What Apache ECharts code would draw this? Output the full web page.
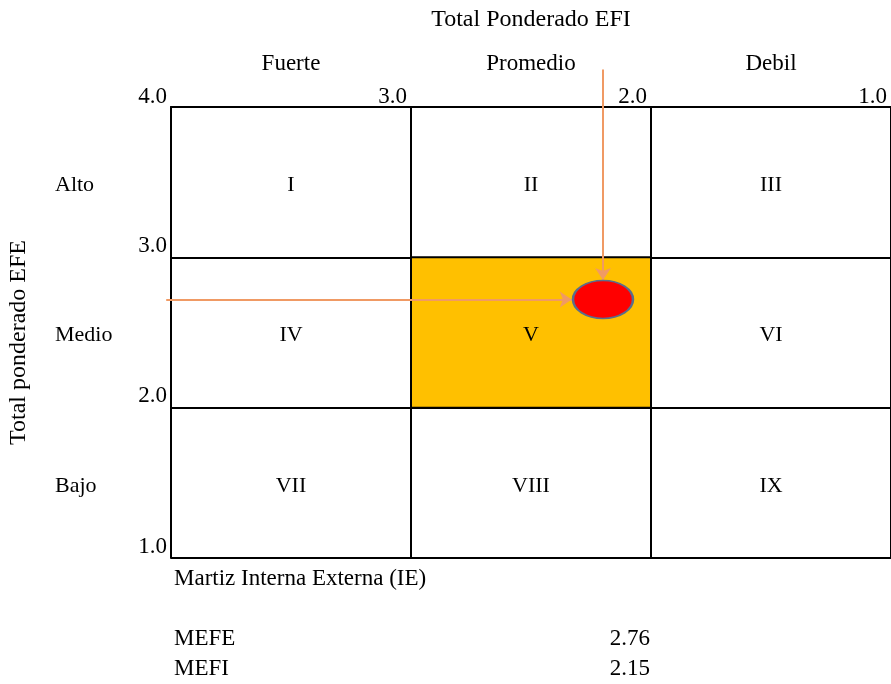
<!DOCTYPE html>
<html>
<head>
<meta charset="utf-8">
<script src="https://cdn.jsdelivr.net/npm/echarts@6/dist/echarts.min.js"></script>
<style>
html,body{margin:0;padding:0;background:#fff;}
#chart{width:891px;height:684px;}
</style>
</head>
<body>
<div id="chart"></div>
<script>
// ---- data ----
const axisMin = 1, axisMax = 4;
const xTitle = 'Total Ponderado EFI';
const yTitle = 'Total ponderado EFE';
const colHeaders = ['Fuerte', 'Promedio', 'Debil'];
const colCenters = [3.5, 2.5, 1.5];
const rowHeaders = ['Alto', 'Medio', 'Bajo'];
const rowCenters = [3.5, 2.5, 1.5];
const cellLabels = ['I', 'II', 'III', 'IV', 'V', 'VI', 'VII', 'VIII', 'IX'];
const cellEFI = [3.5, 2.5, 1.5, 3.5, 2.5, 1.5, 3.5, 2.5, 1.5];
const cellEFE = [3.5, 3.5, 3.5, 2.5, 2.5, 2.5, 1.5, 1.5, 1.5];
const highlightEFI = [3, 2];
const highlightEFE = [3, 2];
const pointEFI = [2.2];
const pointEFE = [2.72];
const arrowV = [[2.2, 4.25], [2.2, 2.85]];
const arrowH = [[4.02, 2.72], [2.33, 2.72]];
const footerTitle = 'Martiz Interna Externa (IE)';
const summaryNames = ['MEFE', 'MEFI'];
const summaryValues = ['2.76', '2.15'];

const FONT = '"Liberation Serif", "Times New Roman", serif';
const chart = echarts.init(document.getElementById('chart'));

const option = {
  animation: false,
  backgroundColor: '#fff',
  grid: { left: 171, top: 107, width: 721, height: 451, show: false },
  xAxis: {
    type: 'value', min: axisMin, max: axisMax, interval: 1, inverse: true, position: 'top',
    axisLine: { show: true, lineStyle: { color: '#000', width: 2 } },
    axisTick: { show: false },
    splitLine: { show: true, lineStyle: { color: '#000', width: 2 } },
    axisLabel: {
      formatter: v => v.toFixed(1), align: 'right', margin: -1, padding: [0, 4, 0, 0],
      fontSize: 23, fontFamily: FONT, color: '#000', showMinLabel: true, showMaxLabel: true
    }
  },
  yAxis: {
    type: 'value', min: axisMin, max: axisMax, interval: 1,
    axisLine: { show: true, lineStyle: { color: '#000', width: 2 } },
    axisTick: { show: false },
    splitLine: { show: true, lineStyle: { color: '#000', width: 2 } },
    axisLabel: {
      formatter: v => (v === axisMax ? '' : v.toFixed(1)), verticalAlign: 'bottom', margin: 4,
      fontSize: 23, fontFamily: FONT, color: '#000'
    }
  },
  series: [
    {
      type: 'scatter', name: 'cells', z: 3,
      symbolSize: 0, itemStyle: { color: '#000', opacity: 1 },
      data: cellLabels.map((n, i) => ({ name: n, value: [cellEFI[i], cellEFE[i]] })),
      label: { show: true, position: 'inside', offset: [0, 3], formatter: p => p.name, fontSize: 22, fontFamily: FONT, color: '#000', opacity: 1 },
      emphasis: { disabled: true },
      markArea: {
        silent: true,
        itemStyle: { color: '#FFC000', borderColor: '#000', borderWidth: 2, opacity: 1 },
        data: [[{ xAxis: highlightEFI[0], yAxis: highlightEFE[0] }, { xAxis: highlightEFI[1], yAxis: highlightEFE[1] }]]
      }
    },
    {
      type: 'lines', coordinateSystem: 'cartesian2d', clip: false, z: 4,
      symbol: ['none', 'arrow'], symbolSize: 12,
      lineStyle: { color: '#F09A64', width: 2, opacity: 1 },
      data: [{ coords: arrowV }, { coords: arrowH }]
    },
    {
      type: 'scatter', name: 'position', z: 5, clip: false,
      symbol: 'circle', symbolSize: [60, 38],
      itemStyle: { color: '#FF0000', borderColor: '#5A6E8C', borderWidth: 2, opacity: 1 },
      emphasis: { disabled: true },
      data: pointEFI.map((x, i) => [x, pointEFE[i]])
    }
  ]
};
chart.setOption(option);

// text elements placed using the chart's own scales
const g = [];
const txt = (text, x, y, align, size, extra) => Object.assign({
  type: 'text', x, y,
  style: { text, fill: '#000', font: size + 'px ' + FONT, align, verticalAlign: 'middle' }
}, extra || {});
const midX = chart.convertToPixel({ gridIndex: 0 }, [(axisMin + axisMax) / 2, axisMin])[0];
g.push(txt(xTitle, midX, 20, 'center', 24));
colHeaders.forEach((h, i) => {
  const px = chart.convertToPixel({ gridIndex: 0 }, [colCenters[i], axisMax]);
  g.push(txt(h, px[0], 64, 'center', 23));
});
rowHeaders.forEach((h, i) => {
  const py = chart.convertToPixel({ gridIndex: 0 }, [axisMax, rowCenters[i]]);
  g.push(txt(h, 55, py[1] + 3, 'left', 22));
});
const midY = chart.convertToPixel({ gridIndex: 0 }, [axisMax, (axisMin + axisMax) / 2])[1];
g.push(txt(yTitle, 19, midY + 10, 'center', 24, { rotation: Math.PI / 2 }));
g.push(txt(footerTitle, 174, 579, 'left', 23));
summaryNames.forEach((n, i) => {
  g.push(txt(n, 174, 639 + i * 30, 'left', 23));
  g.push(txt(summaryValues[i], 650, 639 + i * 30, 'right', 23));
});
chart.setOption({ graphic: { elements: g } });
</script>
</body>
</html>
